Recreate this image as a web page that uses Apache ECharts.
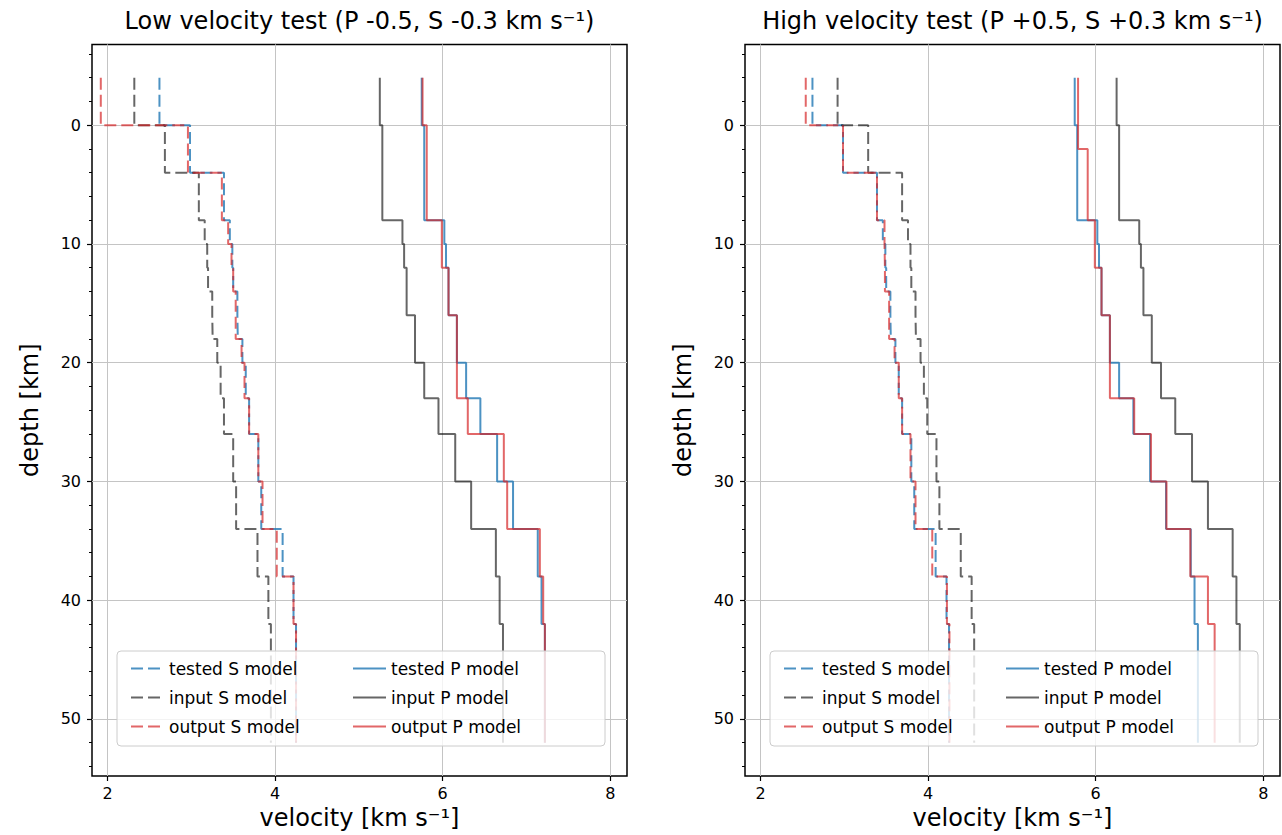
<!DOCTYPE html>
<html><head><meta charset="utf-8">
<script src="https://cdn.jsdelivr.net/npm/echarts@6/dist/echarts.min.js"></script>
<style>html,body{margin:0;padding:0;background:#fff}#c{width:1282px;height:835px}</style>
</head><body><div id="c"></div>
<script>
// layer boundaries (km), each model gives one velocity per layer
const DEPTHS = [-4, 0, 2, 4, 8, 10, 12, 14, 16, 18, 20, 23, 26, 30, 34, 38, 42, 46, 52];

// shared tested (true) model
const TESTED_S = [2.62, 2.985, 2.985, 3.39, 3.46, 3.49, 3.50, 3.55, 3.555, 3.61, 3.65, 3.69, 3.80, 3.835, 4.09, 4.22, 4.25, 4.25];
const TESTED_P = [5.75, 5.78, 5.78, 5.78, 6.02, 6.04, 6.07, 6.07, 6.17, 6.17, 6.28, 6.45, 6.65, 6.84, 7.135, 7.18, 7.22, 7.22];

// low velocity test
const LOW_INPUT_S  = [2.32, 2.685, 2.685, 3.09, 3.16, 3.19, 3.20, 3.25, 3.255, 3.31, 3.35, 3.39, 3.50, 3.535, 3.79, 3.92, 3.95, 3.95];
const LOW_OUTPUT_S = [1.92, 2.96, 2.96, 3.365, 3.44, 3.48, 3.50, 3.53, 3.53, 3.60, 3.635, 3.69, 3.80, 3.85, 4.02, 4.22, 4.25, 4.25];
const LOW_INPUT_P  = [5.25, 5.28, 5.28, 5.28, 5.52, 5.54, 5.57, 5.57, 5.67, 5.67, 5.78, 5.95, 6.15, 6.34, 6.635, 6.68, 6.72, 6.72];
const LOW_OUTPUT_P = [5.76, 5.81, 5.81, 5.81, 5.99, 5.99, 6.07, 6.07, 6.17, 6.17, 6.17, 6.30, 6.73, 6.77, 7.16, 7.20, 7.22, 7.22];

// high velocity test
const HIGH_INPUT_S  = [2.92, 3.285, 3.285, 3.69, 3.76, 3.79, 3.80, 3.85, 3.855, 3.91, 3.95, 3.99, 4.10, 4.135, 4.39, 4.52, 4.55, 4.55];
const HIGH_OUTPUT_S = [2.54, 2.985, 2.985, 3.39, 3.48, 3.485, 3.485, 3.535, 3.535, 3.60, 3.65, 3.69, 3.79, 3.85, 4.05, 4.225, 4.255, 4.255];
const HIGH_INPUT_P  = [6.25, 6.28, 6.28, 6.28, 6.52, 6.54, 6.57, 6.57, 6.67, 6.67, 6.78, 6.95, 7.15, 7.34, 7.635, 7.68, 7.72, 7.72];
const HIGH_OUTPUT_P = [5.79, 5.79, 5.905, 5.905, 5.99, 5.99, 6.07, 6.07, 6.17, 6.17, 6.17, 6.46, 6.66, 6.845, 7.13, 7.34, 7.42, 7.42];

const TITLES = ['Low velocity test (P -0.5, S -0.3 km s\u207B\u00B9)', 'High velocity test (P +0.5, S +0.3 km s\u207B\u00B9)'];
const X_TICKS = [2, 4, 6, 8];
const Y_TICKS = [0, 10, 20, 30, 40, 50];
const Y_MINOR = [-6, -4, -2, 2, 4, 6, 8, 12, 14, 16, 18, 22, 24, 26, 28, 32, 34, 36, 38, 42, 44, 46, 48, 52, 54];
const NAMES_S = ['tested S model', 'input S model', 'output S model'];
const NAMES_P = ['tested P model', 'input P model', 'output P model'];

const FONT = 'DejaVu Sans';
const C_BLUE = 'rgba(31,119,180,0.8)';
const C_GRAY = 'rgba(0,0,0,0.6)';
const C_RED = 'rgba(214,39,40,0.7)';

function profile(vals) {
  const pts = [];
  for (let i = 0; i < vals.length; i++) {
    pts.push([vals[i], DEPTHS[i]]);
    pts.push([vals[i], DEPTHS[i + 1]]);
  }
  return pts;
}

const GRIDS = [
  { left: 92, top: 44.4, width: 535, height: 738.6 },
  { left: 745, top: 44.4, width: 535, height: 738.6 }
];
const XMIN = 1.815, XMAX = 8.2, YMIN = -6.8, YMAX = 54.8;

const panels = [
  { s: [TESTED_S, LOW_INPUT_S, LOW_OUTPUT_S], p: [TESTED_P, LOW_INPUT_P, LOW_OUTPUT_P] },
  { s: [TESTED_S, HIGH_INPUT_S, HIGH_OUTPUT_S], p: [TESTED_P, HIGH_INPUT_P, HIGH_OUTPUT_P] }
];
const colors = [C_BLUE, C_GRAY, C_RED];

const xAxis = [], yAxis = [], series = [], legend = [], graphic = [];
panels.forEach((pn, gi) => {
  xAxis.push({
    type: 'value', gridIndex: gi, min: XMIN, max: XMAX, position: 'bottom',
    name: 'velocity [km s\u207B\u00B9]', nameLocation: 'middle', nameGap: 30,
    nameTextStyle: { fontFamily: FONT, fontSize: 24, color: '#000' },
    axisLine: { show: false, onZero: false },
    axisTick: { show: true, inside: false, length: 5, customValues: X_TICKS, lineStyle: { color: '#000', width: 1.2 } },
    axisLabel: { customValues: X_TICKS, margin: 9, fontFamily: FONT, fontSize: 16, color: '#000' },
    splitLine: { show: true, lineStyle: { color: '#c4c4c4', width: 1 } }
  });
  yAxis.push({
    type: 'value', gridIndex: gi, min: YMIN, max: YMAX, inverse: true, position: 'left',
    name: 'depth [km]', nameLocation: 'middle', nameGap: 50,
    nameTextStyle: { fontFamily: FONT, fontSize: 24, color: '#000' },
    axisLine: { show: false, onZero: false },
    axisTick: { show: true, inside: false, length: 5, customValues: Y_TICKS, lineStyle: { color: '#000', width: 1.2 } },
    axisLabel: { customValues: Y_TICKS, margin: 11, fontFamily: FONT, fontSize: 16, color: '#000' },
    splitLine: { show: true, lineStyle: { color: '#c4c4c4', width: 1 } }
  });
  // minor ticks overlay
  yAxis.push({
    type: 'value', gridIndex: gi, min: YMIN, max: YMAX, inverse: true, position: 'left', offset: 0,
    axisLine: { show: false, onZero: false },
    axisTick: { show: true, length: 3, customValues: Y_MINOR, lineStyle: { color: '#000', width: 1 } },
    axisLabel: { show: false }, splitLine: { show: false }
  });
  const yIdx = gi * 2;
  const mk = (name, vals, ci, dashed) => ({
    type: 'line', name, xAxisIndex: gi, yAxisIndex: yIdx, data: profile(vals),
    symbol: 'none', showSymbol: false, animation: false, z: 2 + ci,
    lineStyle: { color: colors[ci], width: 2, type: dashed ? [12, 5] : 'solid' },
    itemStyle: { color: colors[ci] }
  });
  pn.s.forEach((v, i) => series.push(mk(NAMES_S[i], v, i, true)));
  pn.p.forEach((v, i) => series.push(mk(NAMES_P[i], v, i, false)));

  const g = GRIDS[gi];
  graphic.push({
    type: 'rect', z: 50,
    shape: { x: g.left + 25, y: 651, width: 488, height: 95, r: 4 },
    style: { fill: 'rgba(255,255,255,0.8)', stroke: '#cccccc', lineWidth: 1 }
  });
  graphic.push({
    type: 'text', z: 50, x: g.left + g.width / 2, y: 21,
    style: { text: TITLES[gi], font: '24px "DejaVu Sans"', fill: '#000', textAlign: 'center', textVerticalAlign: 'middle' }
  });
  const lg = (names, x) => ({
    show: true, orient: 'vertical', left: x, top: 655, itemGap: 12, itemWidth: 33, itemHeight: 14,
    data: names, z: 60, selectedMode: false,
    itemStyle: { opacity: 0 },
    textStyle: { fontFamily: FONT, fontSize: 17, color: '#000' }
  });
  legend.push(lg(NAMES_S, g.left + 33));
  legend.push(lg(NAMES_P, g.left + 255));
});

const chart = echarts.init(document.getElementById('c'), null, { renderer: 'svg' });
chart.setOption({
  animation: false,
  backgroundColor: '#fff',
  grid: GRIDS.map(g => Object.assign({ show: true, borderColor: '#000', borderWidth: 1.5, backgroundColor: 'transparent', containLabel: false }, g)),
  xAxis, yAxis, series, legend, graphic
});
</script></body></html>
